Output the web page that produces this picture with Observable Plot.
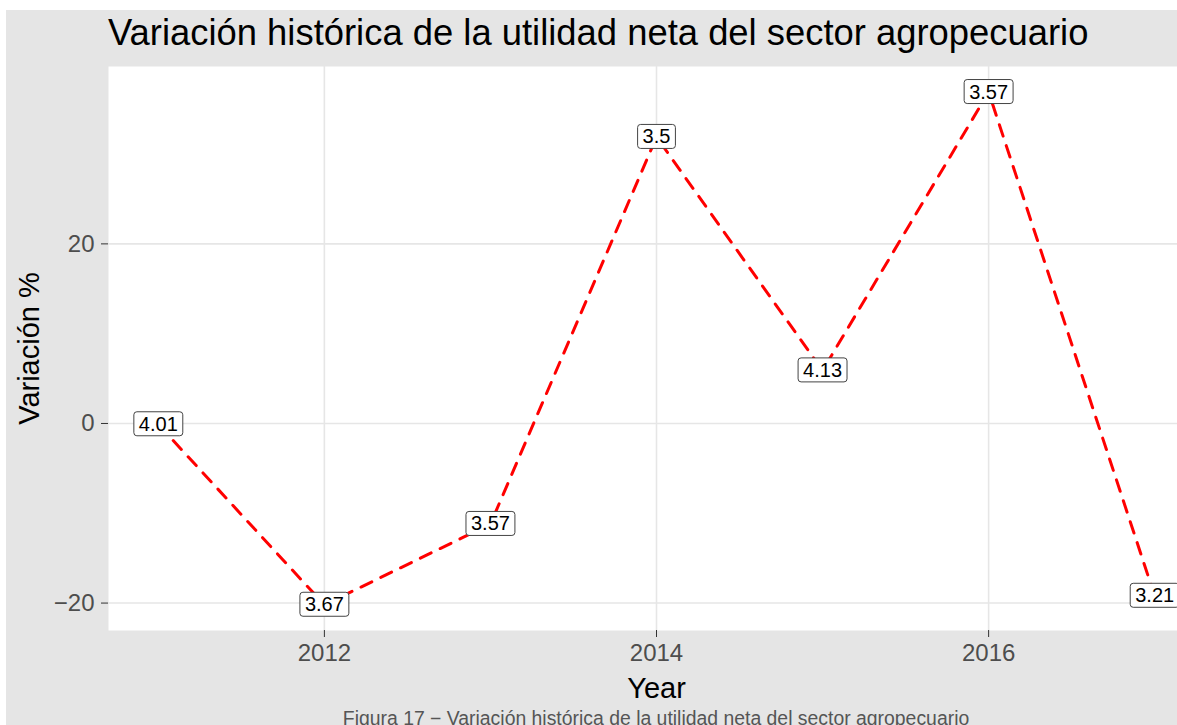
<!DOCTYPE html>
<html>
<head>
<meta charset="utf-8">
<script src="https://cdn.jsdelivr.net/npm/d3@7"></script>
<script src="https://cdn.jsdelivr.net/npm/@observablehq/plot@0.6"></script>
<style>
html, body { margin: 0; padding: 0; overflow: hidden; background: #fff; width: 1177px; height: 725px; }
#wrap { position: absolute; left: 6px; top: 10px; width: 1198px; height: 715px; background: #e5e5e5;
  font-family: "Liberation Sans", Arial, sans-serif; overflow: hidden; }
#title { height: 45px; line-height: 45px; font-size: 36.4px; padding-left: 102px; color: #000; white-space: nowrap; }
#chart svg { display: block; background: transparent; overflow: visible; font-family: "Liberation Sans", Arial, sans-serif; }
#caption { position: absolute; left: 650px; top: 697px; transform: translateX(-50%); font-size: 19.4px;
  line-height: 22px; color: #555; white-space: nowrap; }
g[aria-label="x-axis tick label"], g[aria-label="y-axis tick label"] { fill: #4d4d4d; }
g[aria-label="x-axis tick"], g[aria-label="y-axis tick"] { stroke: #333; }
</style>
</head>
<body>
<div id="wrap">
  <div id="title">Variación histórica de la utilidad neta del sector agropecuario</div>
  <div id="chart"></div>
  <div id="caption">Figura 17 − Variación histórica de la utilidad neta del sector agropecuario</div>
</div>
<script>
const years = [2011, 2012, 2013, 2014, 2015, 2016, 2017];
const variacion = [-0.1, -20.2, -11.2, 31.9, 5.9, 36.9, -19.2];
const etiquetas = ["4.01", "3.67", "3.57", "3.5", "4.13", "3.57", "3.21"];
const xTicks = [2012, 2014, 2016];
const yTicks = [-20, 0, 20];

const data = years.map((y, i) => ({year: y, v: variacion[i], label: etiquetas[i]}));

function expand(ext) { const s = ext[1] - ext[0]; return [ext[0] - 0.05 * s, ext[1] + 0.05 * s]; }
const xDom = expand(d3.extent(years));
const yDom = expand(d3.extent(variacion));
const minus = d => (d < 0 ? "\u2212" + Math.abs(d) : String(d));

const svg = Plot.plot({
  width: 1198,
  height: 645,
  marginLeft: 102,
  marginRight: 0,
  marginTop: 11,
  marginBottom: 70,
  x: {domain: xDom},
  y: {domain: yDom},
  marks: [
    Plot.frame({fill: "white", stroke: "none"}),
    Plot.gridX(xTicks, {stroke: "#e6e6e6", strokeOpacity: 1, strokeWidth: 1.6}),
    Plot.gridY(yTicks, {stroke: "#e6e6e6", strokeOpacity: 1, strokeWidth: 1.6}),
    Plot.axisX(xTicks, {tickSize: 7, tickPadding: 6, fontSize: 24, tickFormat: d => String(d), label: null}),
    Plot.axisY(yTicks, {tickSize: 7, tickPadding: 7, fontSize: 24, tickFormat: minus, label: null}),
    Plot.line(data, {x: "year", y: "v", stroke: "#ff0000", strokeWidth: 3, strokeDasharray: "12,10"}),
    Plot.text(data, {x: "year", y: "v", text: "label", fontSize: 20, fill: "black", textAnchor: "middle", lineAnchor: "middle"}),
    Plot.text(["Variación %"], {frameAnchor: "left", dx: -79, rotate: -90, fontSize: 29, fill: "black", textAnchor: "middle", lineAnchor: "middle"}),
    Plot.text(["Year"], {frameAnchor: "bottom", dy: 58, fontSize: 29, fill: "black", textAnchor: "middle", lineAnchor: "middle"})
  ]
});
document.getElementById("chart").append(svg);

// draw label boxes (like geom_label) around the data label texts
svg.querySelectorAll('g[aria-label="text"]').forEach(g => {
  if (g.getAttribute("font-size") !== "20") return;
  g.querySelectorAll("text").forEach(t => {
    const b = t.getBBox();
    const r = document.createElementNS("http://www.w3.org/2000/svg", "rect");
    const cy = b.y + b.height / 2;
    r.setAttribute("x", b.x - 5);
    r.setAttribute("y", cy - 12);
    r.setAttribute("width", b.width + 10);
    r.setAttribute("height", 24);
    r.setAttribute("rx", 3);
    r.setAttribute("fill", "white");
    r.setAttribute("stroke", "#444");
    r.setAttribute("stroke-width", 1);
    if (t.getAttribute("transform")) r.setAttribute("transform", t.getAttribute("transform"));
    t.parentNode.insertBefore(r, t);
  });
});
</script>
</body>
</html>
